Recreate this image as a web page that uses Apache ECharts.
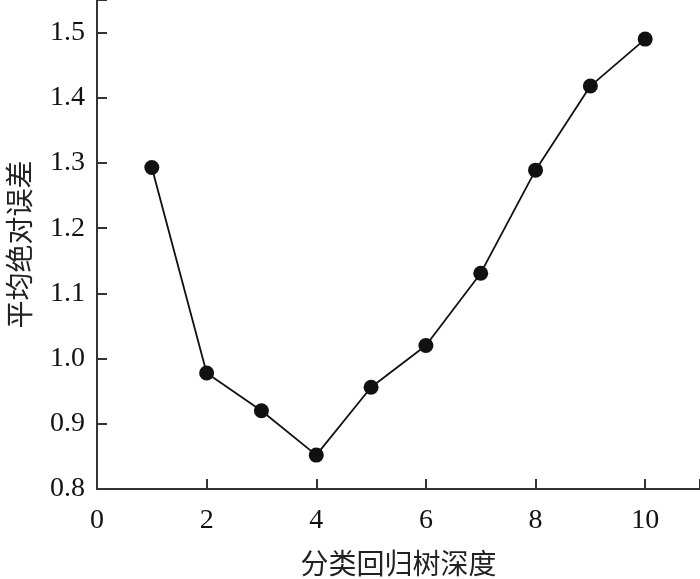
<html>
<head>
<meta charset="utf-8">
<script src="https://cdn.jsdelivr.net/npm/echarts@6/dist/echarts.min.js"></script>
<style>html,body{margin:0;padding:0;background:#fff}</style>
</head>
<body>
<div id="chart" style="width:700px;height:579px"></div>
<script>
var depth = [1, 2, 3, 4, 5, 6, 7, 8, 9, 10];
var mae = [1.293, 0.978, 0.920, 0.852, 0.956, 1.020, 1.131, 1.289, 1.418, 1.490];
var xName = '分类回归树深度';
var yName = '平均绝对误差';

var points = [];
for (var i = 0; i < depth.length; i++) {
    points.push([depth[i], mae[i]]);
}

var chart = echarts.init(document.getElementById('chart'));
chart.setOption({
    animation: false,
    grid: { left: 97, right: 0, top: 0, bottom: 90, outerBoundsMode: 'none', containLabel: false },
    xAxis: {
        type: 'value',
        min: 0, max: 11, interval: 2,
        name: xName,
        nameLocation: 'middle',
        nameGap: 60,
        nameTextStyle: { fontFamily: 'Noto Sans CJK SC', fontSize: 28, color: '#222' },
        axisLine: { lineStyle: { color: '#333', width: 2 } },
        axisTick: { inside: true, length: 10, lineStyle: { color: '#333', width: 2 } },
        axisLabel: {
            fontFamily: 'Liberation Serif', fontSize: 28, color: '#111', margin: 18,
            formatter: function (v) { return v > 10 ? '' : v; }
        },
        splitLine: { show: false }
    },
    yAxis: {
        type: 'value',
        min: 0.8, max: 1.55, interval: 0.1,
        name: yName,
        nameLocation: 'middle',
        nameGap: 64,
        nameTextStyle: { fontFamily: 'Noto Sans CJK SC', fontSize: 28, color: '#222' },
        axisLine: { show: true, lineStyle: { color: '#333', width: 2 } },
        axisTick: { show: true, inside: true, length: 10, lineStyle: { color: '#333', width: 2 } },
        axisLabel: {
            fontFamily: 'Liberation Serif', fontSize: 28, color: '#111', margin: 12,
            formatter: function (v) { return v > 1.5 ? '' : v.toFixed(1); }
        },
        splitLine: { show: false }
    },
    series: [{
        type: 'line',
        data: points,
        symbol: 'circle',
        symbolSize: 15,
        itemStyle: { color: '#111' },
        lineStyle: { color: '#111', width: 1.8 }
    }]
});
</script>
</body>
</html>
